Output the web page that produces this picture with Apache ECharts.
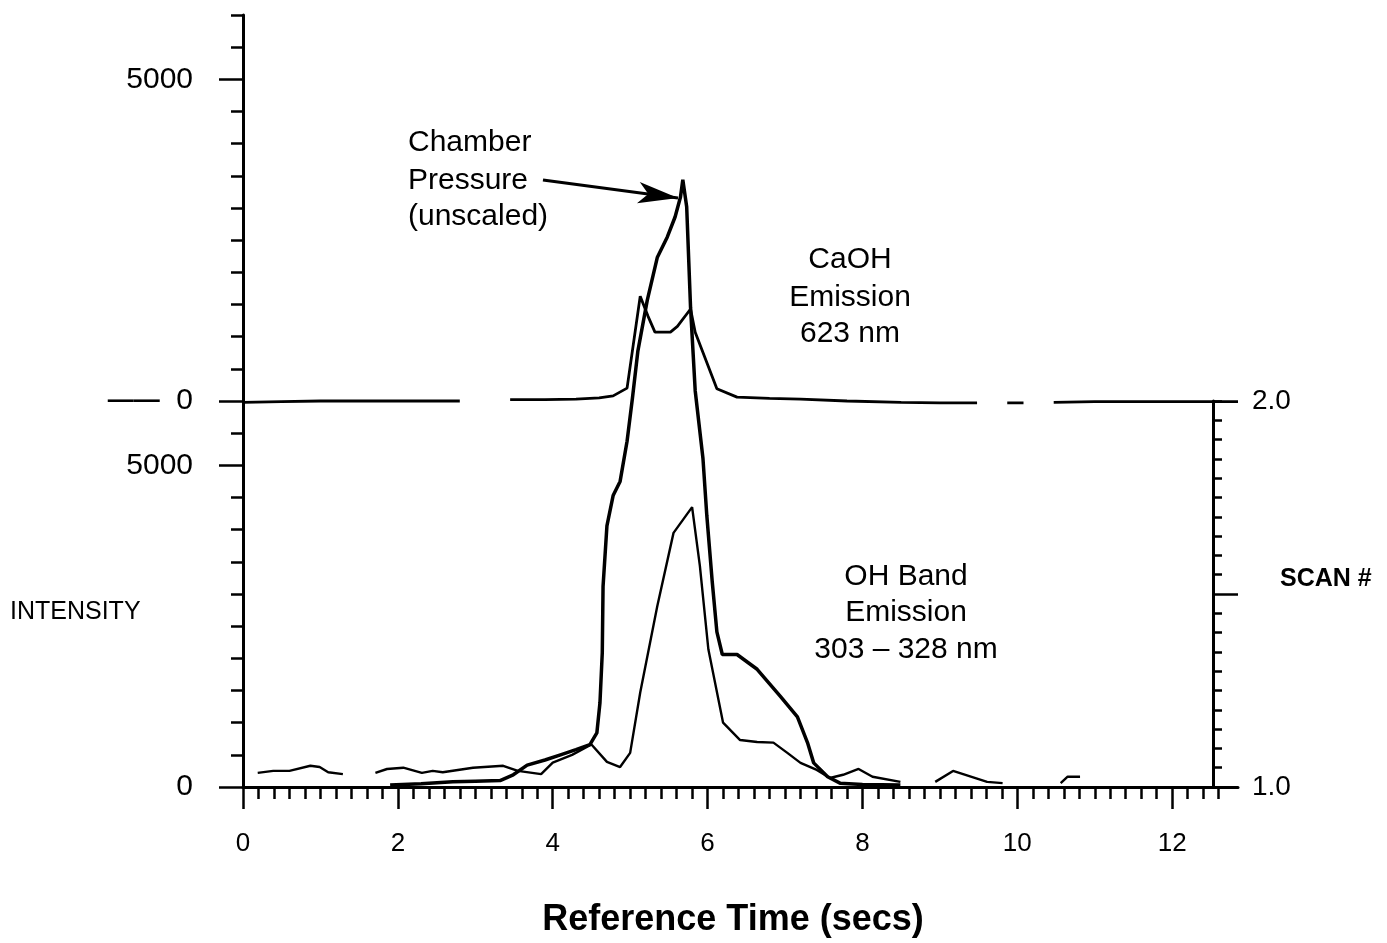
<!DOCTYPE html>
<html lang="en">
<head>
<meta charset="UTF-8">
<meta name="viewport" content="width=device-width, initial-scale=1.0">
<title>Intensity vs Reference Time</title>
<script src="https://cdn.jsdelivr.net/npm/echarts@6.0.0/dist/echarts.min.js"></script>
<style>
    html, body, #chart {
        width: 100%;
        height: 100%;
        margin: 0;
        padding: 0;
        background: #fff;
    }
    body {
        overflow: hidden;
    }
</style>
</head>
<body>
<div id="chart"></div>
<script>
    // tick labels
    const timeLabels = [0, 2, 4, 6, 8, 10, 12];
    const intensityLabels = [0, 5000];
    const scanLabels = [1, 2];

    // CaOH emission 623 nm (upper panel), null = gap in the trace
    const caohTime = [0, 0.5, 1.0, 1.5, 2.0, 2.5, 2.8, 3.1, 3.45, 3.9, 4.3, 4.6, 4.78, 4.96, 5.13, 5.23, 5.32, 5.52, 5.61, 5.78,
        5.84, 6.12, 6.38, 6.8, 7.2, 7.8, 8.5, 9.0, 9.48, 9.7, 9.87, 10.08, 10.3, 10.47, 11.0, 11.5, 12.0, 12.5, 12.85];
    const caohIntensity = [-20, -10, 0, 0, 0, 0, 0, null, 20, 20, 30, 50, 80, 200, 1630, 1320, 1070, 1070, 1160, 1430,
        1070, 190, 60, 40, 30, 0, -20, -30, -30, null, -30, -30, null, -20, -10, -10, -10, -10, -10];

    // chamber pressure (unscaled), read on the lower scale
    const pressureTime = [1.9, 2.3, 2.71, 3.0, 3.32, 3.49, 3.67, 3.9, 4.1, 4.3, 4.48, 4.57, 4.61, 4.64, 4.65, 4.70, 4.78, 4.87, 4.96, 5.03,
        5.10, 5.22, 5.35, 5.48, 5.58, 5.65, 5.68, 5.73, 5.78, 5.84, 5.94, 5.99, 6.06, 6.12, 6.19, 6.38, 6.64, 6.94, 7.16, 7.29,
        7.37, 7.55, 7.71, 8.0, 8.49];
    const pressureValue = [30, 50, 80, 90, 100, 190, 340, 420, 500, 580, 660, 840, 1310, 2090, 3120, 4060, 4530, 4750, 5375, 6050,
        6780, 7560, 8230, 8550, 8860, 9170, 9440, 9020, 7450, 6160, 5110, 4220, 3190, 2410, 2060, 2060, 1830, 1410, 1090, 690,
        375, 160, 60, 40, 30];

    // OH band emission 303 - 328 nm (lower panel)
    const ohTime = [0.19, 0.39, 0.6, 0.87, 0.99, 1.1, 1.29, 1.5, 1.71, 1.86, 2.07, 2.31, 2.45, 2.58, 2.97, 3.36, 3.55, 3.85, 4.0, 4.25,
        4.5, 4.7, 4.87, 5.0, 5.13, 5.35, 5.56, 5.80, 5.90, 6.01, 6.2, 6.42, 6.64, 6.85, 7.03, 7.2, 7.41, 7.58, 7.75, 7.95,
        8.13, 8.49, 8.7, 8.94, 9.17, 9.61, 9.81, 10.2, 10.56, 10.65, 10.81];
    const ohIntensity = [220, 250, 250, 330, 310, 230, 200, null, 220, 280, 300, 220, 250, 230, 300, 330, 250, 200, 380, 500,
        660, 390, 310, 530, 1470, 2810, 3950, 4350, 3440, 2140, 1000, 730, 700, 690, 530, 375, 265, 140, 190, 280,
        160, 80, null, 80, 250, 80, 60, null, 60, 160, 160];

    // arrow from the "Chamber Pressure" note to the pressure peak [secs, lower-scale intensity]
    const arrowFrom = [3.874, 9436];
    const arrowTo = [5.618, 9156];

    const FONT = '"Liberation Sans", Arial, Helvetica, sans-serif';
    const pairs = (ts, vs) => ts.map((t, i) => [t, vs[i]]);

    const minorTime = [];
    for (let k = 0; k <= 63; k++) minorTime.push(Math.round(k * 2) / 10);
    const ticks500 = [];
    for (let v = -6000; v <= 6000; v += 500) ticks500.push(v);
    const scanTicks = [];
    for (let k = 0; k <= 20; k++) scanTicks.push(1 + k * 0.05);

    const chart = echarts.init(document.getElementById('chart'));

    function note(text, x, y, size, align, weight) {
        return {
            type: 'text', x: x, y: y, silent: true,
            style: {
                text: text, fill: '#000',
                font: (weight || 'normal') + ' ' + size + 'px ' + FONT,
                textAlign: align || 'left', textVerticalAlign: 'middle'
            }
        };
    }

    const lineCommon = { type: 'line', showSymbol: false, symbol: 'none', connectNulls: false, silent: true, animation: false };

    const option = {
        backgroundColor: '#fff',
        animation: false,
        grid: [
            { left: 243, right: 149, top: 15, bottom: 156 },
            { left: 243, right: 174, top: 401, bottom: 156 }
        ],
        xAxis: [
            {
                type: 'value', gridIndex: 0, min: 0, max: 12.85, position: 'bottom',
                axisLine: { show: true, onZero: false, lineStyle: { color: '#000', width: 3 } },
                axisTick: { show: true, customValues: minorTime, length: 12, lineStyle: { color: '#000', width: 2.5 } },
                axisLabel: { show: false },
                splitLine: { show: false }
            },
            {
                type: 'value', gridIndex: 0, min: 0, max: 12.85, position: 'bottom', offset: 0,
                axisLine: { show: false, onZero: false },
                axisTick: { show: true, customValues: timeLabels, length: 22, lineStyle: { color: '#000', width: 2.5 } },
                axisLabel: { show: true, customValues: timeLabels, margin: 44, color: '#000', fontSize: 26, fontFamily: FONT },
                splitLine: { show: false }
            },
            { type: 'value', gridIndex: 1, min: 0, max: 12.5, show: false }
        ],
        yAxis: [
            {
                // lower panel scale (upper panel sits on top of it, shifted by 6000)
                type: 'value', gridIndex: 0, min: 0, max: 12000, position: 'left',
                axisLine: { show: true, onZero: false, lineStyle: { color: '#000', width: 3 } },
                axisTick: { show: true, customValues: [0, 5000, 6000, 11000], length: 24, lineStyle: { color: '#000', width: 2.5 } },
                axisLabel: {
                    show: true, customValues: intensityLabels, margin: 50, color: '#000', fontSize: 30, fontFamily: FONT,
                    formatter: v => String(v)
                },
                splitLine: { show: false }
            },
            {
                // upper panel scale
                type: 'value', gridIndex: 0, min: -6000, max: 6000, position: 'left', offset: 0,
                axisLine: { show: false, onZero: false },
                axisTick: { show: true, customValues: ticks500, length: 12, lineStyle: { color: '#000', width: 2.5 } },
                axisLabel: {
                    show: true, customValues: intensityLabels, margin: 50, color: '#000', fontSize: 30, fontFamily: FONT,
                    formatter: v => (v === 0 ? '{d|\u2014\u2014}  0' : String(v)),
                    rich: { d: { fontSize: 26, fontWeight: 'bold', fontFamily: FONT, color: '#000' } }
                },
                splitLine: { show: false }
            },
            {
                type: 'value', gridIndex: 1, min: 1, max: 2, position: 'right',
                axisLine: { show: true, onZero: false, lineStyle: { color: '#000', width: 3 } },
                axisTick: { show: true, customValues: scanTicks, length: 9, lineStyle: { color: '#000', width: 2.5 } },
                axisLabel: {
                    show: true, customValues: scanLabels, margin: 39, color: '#000', fontSize: 28, fontFamily: FONT,
                    formatter: v => v.toFixed(1)
                },
                splitLine: { show: false }
            },
            {
                type: 'value', gridIndex: 1, min: 1, max: 2, position: 'right', offset: 0,
                axisLine: { show: false, onZero: false },
                axisTick: { show: true, customValues: [1.5], length: 25, lineStyle: { color: '#000', width: 2.5 } },
                axisLabel: { show: false },
                splitLine: { show: false }
            }
        ],
        series: [
            Object.assign({}, lineCommon, {
                name: 'CaOH Emission 623 nm',
                xAxisIndex: 0, yAxisIndex: 1,
                data: pairs(caohTime, caohIntensity),
                lineStyle: { color: '#000', width: 2.8 }
            }),
            Object.assign({}, lineCommon, {
                name: 'Chamber Pressure (unscaled)',
                xAxisIndex: 0, yAxisIndex: 0,
                data: pairs(pressureTime, pressureValue),
                lineStyle: { color: '#000', width: 3.5 },
                markLine: {
                    silent: true, animation: false,
                    symbol: ['none', 'arrow'], symbolSize: [16, 40],
                    label: { show: false },
                    lineStyle: { color: '#000', width: 3, type: 'solid' },
                    data: [[{ coord: arrowFrom }, { coord: arrowTo }]]
                }
            }),
            Object.assign({}, lineCommon, {
                name: 'OH Band Emission 303 - 328 nm',
                xAxisIndex: 0, yAxisIndex: 0,
                data: pairs(ohTime, ohIntensity),
                lineStyle: { color: '#000', width: 2.4 }
            })
        ],
        graphic: [
            note('Chamber', 408, 143, 30),
            note('Pressure', 408, 181, 30),
            note('(unscaled)', 408, 217, 30),
            note('CaOH', 850, 260, 30, 'center'),
            note('Emission', 850, 298, 30, 'center'),
            note('623 nm', 850, 334, 30, 'center'),
            note('OH Band', 906, 577, 30, 'center'),
            note('Emission', 906, 613, 30, 'center'),
            note('303 \u2013 328 nm', 906, 650, 30, 'center'),
            note('INTENSITY', 10, 612, 25),
            note('SCAN #', 1280, 579, 25, 'left', 'bold'),
            note('Reference Time (secs)', 733, 920, 36, 'center', 'bold')
        ]
    };

    chart.setOption(option);
    window.addEventListener('resize', function () {
        chart.resize();
    });
</script>
</body>
</html>
